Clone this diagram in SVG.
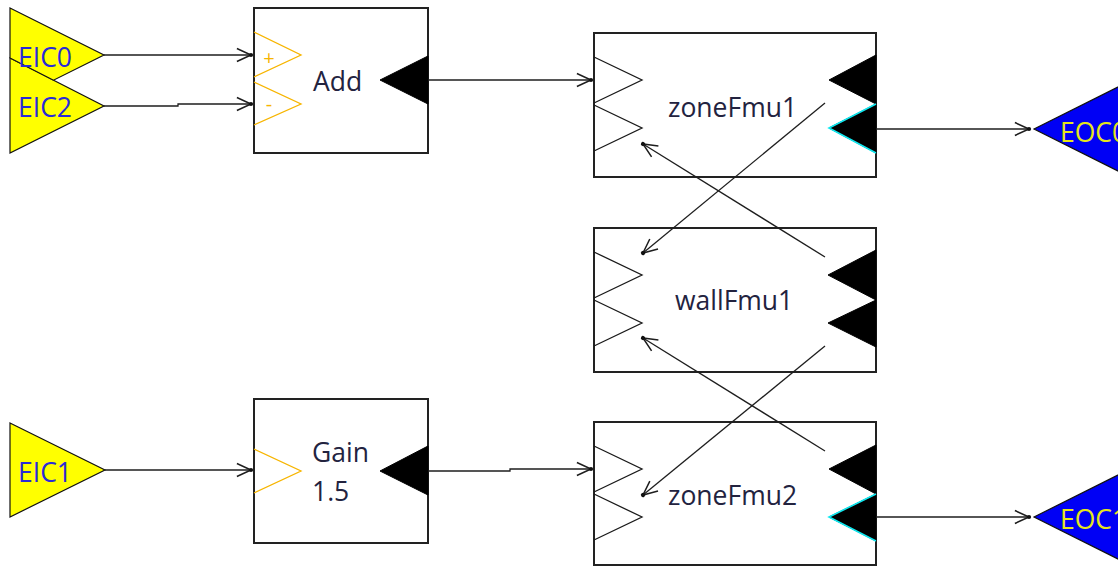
<svg xmlns="http://www.w3.org/2000/svg" width="1118" height="566" viewBox="0 0 1118 566">
  <style>
    .box { fill: #ffffff; stroke: #222222; stroke-width: 2; }
    .inport { fill: none; stroke: #1a1a1a; stroke-width: 1.3; }
    .outport { fill: #000000; stroke: #000000; stroke-width: 1; }
    .hilite { fill: none; stroke: #10e8f0; stroke-width: 1.6; }
    .opin { fill: none; stroke: #f7b500; stroke-width: 1.3; }
    .osign { fill: #f7b500; font-family: "Open Sans", "DejaVu Sans", sans-serif; font-size: 20px; text-anchor: middle; }
    .label { fill: #23233f; font-family: "Open Sans", "DejaVu Sans", sans-serif; font-size: 26.5px; }
    .ein { fill: #ffff00; stroke: #111111; stroke-width: 1.2; }
    .ein-text { fill: #2a2ad8; font-family: "Open Sans", "DejaVu Sans", sans-serif; font-size: 26.5px; }
    .eout { fill: #0000f5; stroke: #111111; stroke-width: 1.2; }
    .eout-text { fill: #e6e61a; font-family: "Open Sans", "DejaVu Sans", sans-serif; font-size: 26.5px; }
    .link { fill: none; stroke: #1e1e1e; stroke-width: 1.3; marker-end: url(#arrow); }
  </style>
  <defs>
    <marker id="arrow" markerUnits="userSpaceOnUse" markerWidth="20" markerHeight="20" viewBox="-14 -8 17 16" refX="0" refY="0" orient="auto" overflow="visible">
      <path d="M-12,-5.5 L0,0 L-12,5.5" fill="none" stroke="#1e1e1e" stroke-width="1.3"/>
      <circle cx="0" cy="0" r="1.8" fill="#111111"/>
    </marker>
  </defs>

  <rect width="1118" height="566" fill="#ffffff"/>

  <!-- external inputs -->
  <g id="EIC2">
    <polygon class="ein" points="10,58 104,106 10,153"/>
    <text class="ein-text" x="18" y="117">EIC2</text>
  </g>
  <g id="EIC0">
    <!-- the part of the port that is not covered by EIC2 -->
    <polygon class="ein" points="10,8 104,55 53.5,80.2 10,58"/>
    <text class="ein-text" x="18" y="67">EIC0</text>
  </g>
  <g id="EIC1">
    <polygon class="ein" points="10,423 105,470 10,517"/>
    <text class="ein-text" x="18" y="482">EIC1</text>
  </g>

  <!-- Add block -->
  <g id="Add">
    <rect class="box" x="254" y="8" width="174" height="145"/>
    <polyline class="opin" points="254,32 301,55 254,77"/>
    <polyline class="opin" points="254,82 301,104 254,125"/>
    <text class="osign" x="269" y="65">+</text>
    <text class="osign" x="269" y="111">-</text>
    <text class="label" x="313" y="91" font-size="28">Add</text>
    <polygon class="outport" points="428,56 380,80 428,104"/>
  </g>

  <!-- Gain block -->
  <g id="Gain">
    <rect class="box" x="254" y="399" width="174" height="144"/>
    <polyline class="opin" points="254,449 301,471 254,493"/>
    <text class="label" x="312" y="462">Gain</text>
    <text class="label" x="312" y="501">1.5</text>
    <polygon class="outport" points="428,446 380,471 428,495"/>
  </g>

  <!-- zoneFmu1 -->
  <g id="zoneFmu1">
    <rect class="box" x="594" y="33" width="282" height="144"/>
    <polyline class="inport" points="594,57 642,80 594,103"/>
    <polyline class="inport" points="594,105 642,128 594,151"/>
    <polygon class="outport" points="876,55 829,80 876,104"/>
    <polygon class="outport" points="876,104 829,128 876,153"/>
    <polyline class="hilite" points="876,104 829,128 876,153"/>
    <text class="label" x="668" y="117">zoneFmu1</text>
  </g>

  <!-- wallFmu1 -->
  <g id="wallFmu1">
    <rect class="box" x="594" y="228" width="282" height="144"/>
    <polyline class="inport" points="594,252 642,275 594,298"/>
    <polyline class="inport" points="594,300 642,323 594,346"/>
    <polygon class="outport" points="876,250 828,275 876,300"/>
    <polygon class="outport" points="876,300 828,323 876,347"/>
    <text class="label" x="675" y="310">wallFmu1</text>
  </g>

  <!-- zoneFmu2 -->
  <g id="zoneFmu2">
    <rect class="box" x="594" y="422" width="282" height="143"/>
    <polyline class="inport" points="594,446 642,469 594,492"/>
    <polyline class="inport" points="594,494 642,517 594,540"/>
    <polygon class="outport" points="876,445 829,469 876,494"/>
    <polygon class="outport" points="876,494 829,517 876,541"/>
    <polyline class="hilite" points="876,494 829,517 876,541"/>
    <text class="label" x="668" y="505">zoneFmu2</text>
  </g>

  <!-- external outputs -->
  <g id="EOC0">
    <polygon class="eout" points="1034,129 1130,81 1130,177"/>
    <text class="eout-text" x="1060" y="142">EOC0</text>
  </g>
  <g id="EOC1">
    <polygon class="eout" points="1034,517 1130,469 1130,565"/>
    <text class="eout-text" x="1060" y="529">EOC1</text>
  </g>

  <!-- connections -->
  <g id="connectors">
    <polyline class="link" points="104,55 251,55"/>
    <polyline class="link" points="104,106 178,106 178,104 251,104"/>
    <polyline class="link" points="105,470 251,470"/>
    <polyline class="link" points="428,80 591,80"/>
    <polyline class="link" points="428,471 510,471 510,469 591,469"/>
    <polyline class="link" points="876,129 1029,129"/>
    <polyline class="link" points="876,517 1029,517"/>
    <polyline class="link" points="825,103 643,253"/>
    <polyline class="link" points="825,257 643,144"/>
    <polyline class="link" points="825,346 643,495"/>
    <polyline class="link" points="825,451 643,338"/>
  </g>
</svg>
